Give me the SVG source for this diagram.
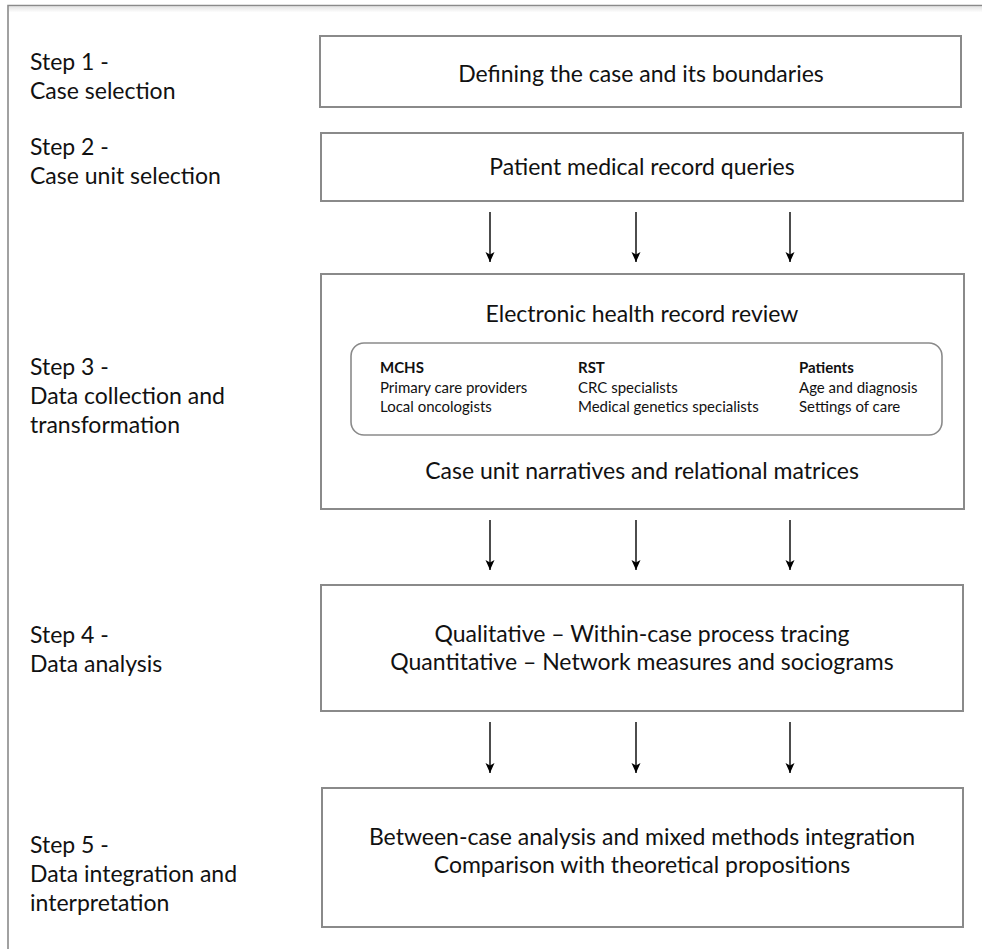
<svg xmlns="http://www.w3.org/2000/svg" width="982" height="949" viewBox="0 0 982 949">
  <style>
    .frame { fill: none; stroke: #8a8a8a; stroke-width: 1.6; }
    .box { fill: #ffffff; stroke: #8a8a8a; stroke-width: 2; }
    .inner { fill: #ffffff; stroke: #8a8a8a; stroke-width: 1.6; }
    .step { font-family: Lato, "Open Sans", sans-serif; font-size: 23px; fill: #111111; }
    .main { font-family: Lato, "Open Sans", sans-serif; font-size: 23px; fill: #111111; text-anchor: middle; }
    .col { font-family: Lato, "Open Sans", sans-serif; font-size: 15px; fill: #111111; }
    .colhead { font-weight: bold; }
    .conn { stroke: #000000; stroke-width: 1.4; fill: none; marker-end: url(#arrow); }
  </style>
  <defs>
    <marker id="arrow" viewBox="0 0 10 10" refX="10" refY="5" markerWidth="10" markerHeight="10" markerUnits="userSpaceOnUse" orient="auto">
      <path d="M0,0.5 L10,5 L0,9.5 L2.5,5 Z" fill="#000000"/>
    </marker>
    <linearGradient id="shade" x1="0" y1="0" x2="0" y2="1">
      <stop offset="0" stop-color="#e4e4e4"/>
      <stop offset="1" stop-color="#ffffff"/>
    </linearGradient>
  </defs>

  <rect width="982" height="949" fill="#ffffff"/>

  <!-- outer frame -->
  <rect x="9" y="6.5" width="973" height="6" fill="url(#shade)"/>
  <path class="frame" d="M8,949 V5.5 H982"/>

  <!-- step labels -->
  <g id="labels">
    <text class="step" x="30" y="70">Step 1 -</text>
    <text class="step" x="30" y="99">Case selection</text>
    <text class="step" x="30" y="155">Step 2 -</text>
    <text class="step" x="30" y="184">Case unit selection</text>
    <text class="step" x="30" y="375">Step 3 -</text>
    <text class="step" x="30" y="404">Data collection and</text>
    <text class="step" x="30" y="433">transformation</text>
    <text class="step" x="30" y="643">Step 4 -</text>
    <text class="step" x="30" y="672">Data analysis</text>
    <text class="step" x="30" y="853">Step 5 -</text>
    <text class="step" x="30" y="882">Data integration and</text>
    <text class="step" x="30" y="911">interpretation</text>
  </g>

  <g id="step1">
    <rect class="box" x="320" y="36" width="641" height="71"/>
    <text class="main" x="641" y="82">Defining the case and its boundaries</text>
  </g>

  <g id="step2">
    <rect class="box" x="321" y="133" width="642" height="68"/>
    <text class="main" x="642" y="175">Patient medical record queries</text>
  </g>

  <g id="step3">
    <rect class="box" x="321" y="274" width="643" height="235"/>
    <text class="main" x="642" y="322">Electronic health record review</text>
    <rect class="inner" x="351" y="343" width="591" height="92" rx="13" ry="13"/>
    <text class="col" x="380" y="373"><tspan class="colhead">MCHS</tspan><tspan x="380" y="393">Primary care providers</tspan><tspan x="380" y="412">Local oncologists</tspan></text>
    <text class="col" x="578" y="373"><tspan class="colhead">RST</tspan><tspan x="578" y="393">CRC specialists</tspan><tspan x="578" y="412">Medical genetics specialists</tspan></text>
    <text class="col" x="799" y="373"><tspan class="colhead">Patients</tspan><tspan x="799" y="393">Age and diagnosis</tspan><tspan x="799" y="412">Settings of care</tspan></text>
    <text class="main" x="642" y="479">Case unit narratives and relational matrices</text>
  </g>

  <g id="step4">
    <rect class="box" x="321" y="585" width="642" height="126"/>
    <text class="main" x="642" y="642">Qualitative – Within-case process tracing</text>
    <text class="main" x="642" y="670">Quantitative – Network measures and sociograms</text>
  </g>

  <g id="step5">
    <rect class="box" x="322" y="788" width="641" height="139"/>
    <text class="main" x="642" y="845">Between-case analysis and mixed methods integration</text>
    <text class="main" x="642" y="873">Comparison with theoretical propositions</text>
  </g>

  <g id="connectors">
    <line class="conn" x1="490" y1="212" x2="490" y2="262"/>
    <line class="conn" x1="636" y1="212" x2="636" y2="262"/>
    <line class="conn" x1="790" y1="212" x2="790" y2="262"/>
    <line class="conn" x1="490" y1="520" x2="490" y2="570"/>
    <line class="conn" x1="636" y1="520" x2="636" y2="570"/>
    <line class="conn" x1="790" y1="520" x2="790" y2="570"/>
    <line class="conn" x1="490" y1="722" x2="490" y2="773"/>
    <line class="conn" x1="636" y1="722" x2="636" y2="773"/>
    <line class="conn" x1="790" y1="722" x2="790" y2="773"/>
  </g>
</svg>
